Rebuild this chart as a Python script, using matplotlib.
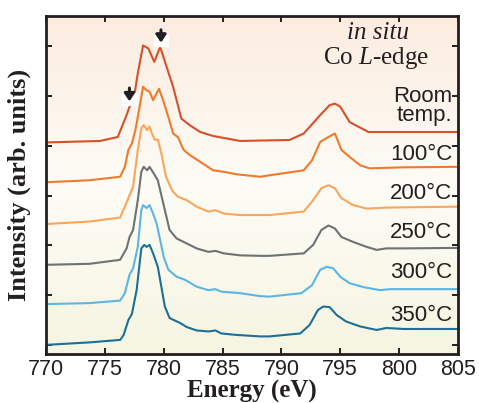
import numpy as np
import matplotlib
matplotlib.use("Agg")
import matplotlib.pyplot as plt
from matplotlib.colors import LinearSegmentedColormap
from matplotlib.patches import Rectangle

plt.rcParams["font.family"] = ["Liberation Sans", "DejaVu Sans"]
plt.rcParams["mathtext.fontset"] = "custom"
plt.rcParams["mathtext.rm"] = "Liberation Serif"
plt.rcParams["mathtext.it"] = "Liberation Serif:italic"

# spectra (energy in eV, stacked intensity in arb. units)
e_room = [770.0, 774.6, 776.1, 776.85, 777.1, 777.4, 777.8, 778.25, 778.7, 779.2, 779.7,
          780.25, 780.8, 781.5, 782.2, 783.1, 784.2, 786.5, 790.7, 791.9, 793.3, 794.1,
          794.55, 795.0, 795.8, 797.4, 800.6, 805.0]
i_room = [4.07, 4.10, 4.18, 4.62, 4.79, 4.85, 5.46, 6.02, 5.96, 5.69, 5.99,
          5.59, 5.19, 4.55, 4.42, 4.28, 4.20, 4.10, 4.12, 4.25, 4.62, 4.82,
          4.85, 4.79, 4.48, 4.28, 4.28, 4.28]

e_100 = [770.0, 773.7, 776.3, 776.7, 777.0, 777.3, 777.6, 778.0, 778.25, 778.55, 778.8,
         779.1, 779.6, 779.95, 780.4, 780.8, 781.2, 781.7, 782.2, 783.1, 784.2, 785.1,
         786.2, 788.2, 789.0, 791.9, 792.6, 793.3, 794.0, 794.55, 795.1, 795.8, 796.7,
         797.5, 800.4, 805.0]
i_100 = [3.27, 3.31, 3.38, 3.58, 3.92, 4.05, 4.32, 4.85, 5.19, 5.12, 5.09,
         4.92, 5.15, 4.92, 4.58, 4.25, 4.18, 3.92, 3.82, 3.68, 3.51, 3.48,
         3.43, 3.38, 3.41, 3.51, 3.71, 4.08, 4.18, 4.25, 3.92, 3.78, 3.61,
         3.55, 3.57, 3.58]

e_200 = [770.0, 773.7, 776.3, 776.7, 777.1, 777.4, 777.8, 778.1, 778.3, 778.6, 778.8,
         779.0, 779.25, 779.5, 779.8, 780.2, 780.7, 781.2, 781.95, 782.8, 783.8, 784.4,
         785.1, 786.5, 788.2, 789.0, 791.9, 792.7, 793.4, 794.0, 794.55, 795.1, 796.1,
         797.25, 798.9, 805.0]
i_200 = [2.43, 2.48, 2.56, 2.78, 3.01, 3.18, 3.92, 4.35, 4.42, 4.32, 4.39,
         4.25, 4.12, 4.13, 3.85, 3.38, 3.11, 2.98, 2.91, 2.78, 2.68, 2.71,
         2.64, 2.61, 2.61, 2.61, 2.68, 2.91, 3.15, 3.21, 3.15, 2.95, 2.81,
         2.74, 2.76, 2.78]

e_250 = [770.0, 773.7, 776.3, 776.85, 777.1, 777.4, 777.8, 778.1, 778.3, 778.6, 778.8,
         779.25, 779.5, 779.8, 780.1, 780.5, 781.1, 781.95, 782.8, 783.8, 784.4, 785.1,
         786.5, 788.2, 789.0, 791.9, 792.7, 793.4, 794.0, 794.55, 795.1, 796.1, 797.25,
         798.1, 798.9, 800.4, 805.0]
i_250 = [1.61, 1.63, 1.71, 1.94, 2.17, 2.31, 2.91, 3.48, 3.58, 3.51, 3.58,
         3.41, 3.31, 3.01, 2.71, 2.31, 2.14, 2.04, 1.94, 1.87, 1.89, 1.84,
         1.80, 1.79, 1.79, 1.84, 2.01, 2.31, 2.40, 2.34, 2.17, 2.07, 1.97,
         1.91, 1.94, 1.94, 1.95]

e_300 = [770.0, 773.7, 776.3, 776.7, 777.1, 777.4, 777.8, 778.1, 778.25, 778.55, 778.8,
         779.1, 779.4, 779.7, 780.0, 780.4, 781.1, 781.8, 782.8, 783.8, 784.4, 784.9,
         786.5, 788.2, 789.0, 791.7, 792.6, 793.3, 793.85, 794.4, 795.0, 795.8, 797.0,
         798.4, 799.2, 800.4, 805.0]
i_300 = [0.82, 0.84, 0.89, 1.04, 1.41, 1.54, 1.97, 2.71, 2.81, 2.75, 2.81,
         2.64, 2.44, 2.11, 1.77, 1.51, 1.37, 1.31, 1.17, 1.10, 1.12, 1.07,
         1.04, 0.98, 0.97, 1.04, 1.20, 1.51, 1.57, 1.54, 1.37, 1.24, 1.16,
         1.10, 1.12, 1.12, 1.12]

e_350 = [770.0, 773.7, 776.3, 776.6, 777.0, 777.3, 777.7, 778.1, 778.35, 778.55, 778.8,
         779.1, 779.5, 779.8, 780.1, 780.5, 781.4, 781.95, 782.8, 783.8, 784.4, 784.9,
         786.2, 788.2, 789.0, 791.6, 792.4, 793.1, 793.55, 794.1, 794.7, 795.5, 796.7,
         798.1, 798.9, 800.4, 805.0]
i_350 = [0.00, 0.05, 0.10, 0.20, 0.50, 0.62, 1.10, 1.94, 2.01, 1.97, 2.01,
         1.84, 1.57, 1.17, 0.77, 0.54, 0.44, 0.36, 0.29, 0.27, 0.29, 0.23,
         0.20, 0.17, 0.17, 0.23, 0.40, 0.70, 0.77, 0.76, 0.60, 0.47, 0.37,
         0.30, 0.34, 0.32, 0.32]

labels = ["Room\ntemp.", "100°C", "200°C", "250°C", "300°C", "350°C"]
label_y = [4.80, 3.82, 3.05, 2.25, 1.45, 0.60]
colors = ["#d6502a", "#f07a2c", "#f9a55c", "#6f7275", "#5cb5e3", "#1b6f98"]
energies = [e_room, e_100, e_200, e_250, e_300, e_350]
intensities = [i_room, i_100, i_200, i_250, i_300, i_350]

fig = plt.figure(figsize=(4.79, 4.03), dpi=100)
ax = fig.add_axes([0.096, 0.122, 0.860, 0.838])

# soft background gradient
grad = LinearSegmentedColormap.from_list("bg", ["#f6f5e1", "#fdfcf6", "#fcece0"])
ax.imshow(np.linspace(0, 1, 256).reshape(-1, 1), cmap=grad, origin="lower",
          aspect="auto", extent=[770, 805, -0.18, 6.61], zorder=0)

for e, i, c in zip(energies, intensities, colors):
    ax.plot(e, i, color=c, lw=1.5, zorder=2, solid_joinstyle="round")

for lab, y in zip(labels, label_y):
    ax.text(804.5, y, lab, ha="right", va="center", fontsize=16,
            color="#231f20", linespacing=0.85, zorder=4)

# arrows marking features of the room temperature spectrum
for x0, y0, y1 in [(777.09, 5.22, 4.84), (779.77, 6.39, 6.02)]:
    ax.add_patch(Rectangle((x0 - 0.6, y1 - 0.02), 1.2, 0.24, color="white", zorder=3))
    ax.annotate("", xy=(x0, y1), xytext=(x0, y0),
                arrowprops=dict(arrowstyle="-|>,head_width=0.3,head_length=0.45",
                                lw=2.2, color="#231f20"), zorder=5)

ax.text(798.2, 6.27, "in situ", ha="center", va="center", fontsize=18,
        family="Liberation Serif", style="italic", color="#231f20")
ax.text(798.05, 5.76, r"Co $\mathit{L}$-edge", ha="center", va="center", fontsize=18,
        family="Liberation Serif", color="#231f20")

ax.set_xlim(770, 805)
ax.set_ylim(-0.18, 6.61)
ax.set_xticks(np.arange(770, 806, 5))
ax.set_yticks(np.arange(0, 7, 1))
ax.set_yticklabels([])
ax.tick_params(direction="in", length=4, width=1.4, top=True, right=True,
               labelsize=15.5, pad=4, colors="#231f20")
for s in ax.spines.values():
    s.set_linewidth(2)
    s.set_color("#231f20")

ax.set_xlabel("Energy (eV)", fontsize=18, fontweight="bold",
              family="Liberation Serif", labelpad=0, color="#231f20")
ax.set_ylabel("Intensity (arb. units)", fontsize=19, fontweight="bold",
              family="Liberation Serif", labelpad=7, color="#231f20")

fig.savefig("out.png", dpi=100)
